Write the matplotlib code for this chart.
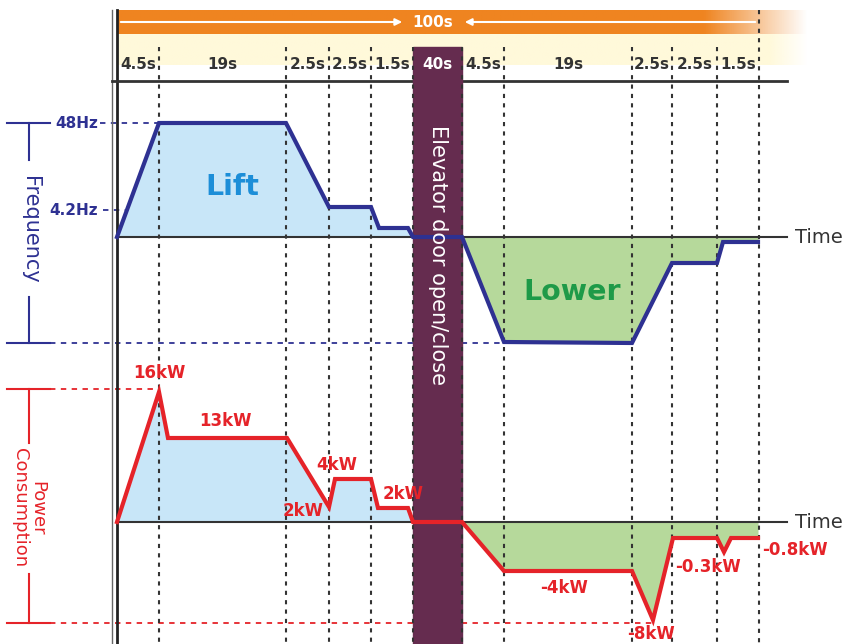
import numpy as np
import matplotlib.pyplot as plt
from matplotlib.patches import Rectangle

plt.rcParams['font.family'] = ['DejaVu Sans']

# phase durations across the top (schematic, not to scale)
seg_labels = ['4.5s', '19s', '2.5s', '2.5s', '1.5s', '40s', '4.5s', '19s', '2.5s', '2.5s', '1.5s']
seg_edges = [117, 159, 286, 329, 371, 413, 462, 504, 632, 672, 717, 759]
total_label = '100s'

# frequency profile (schematic height above the time axis)
freq_x = [117, 159, 286, 329, 371, 379, 408, 413, 462, 504, 632, 672, 717, 723, 758]
freq_lvl = [0, 114, 114, 30, 30, 9, 9, 0, 0, -105, -106, -26, -26, -5, -5]
freq_marks = ['48Hz', '4.2Hz']
freq_mark_lvl = [114, 27]

# power profile (schematic height above the time axis)
pow_x = [117, 159, 168, 287, 329, 335, 371, 378, 408, 413, 462, 504, 632, 653, 673, 717, 724, 731, 758]
pow_lvl = [0, 130, 84, 84, 15, 43, 43, 14, 14, 0, 0, -49, -49, -98, -16, -16, -30, -16, -16]
pow_labels = ['16kW', '13kW', '2kW', '4kW', '2kW', '-4kW', '-8kW', '-0.3kW', '-0.8kW']
pow_label_xy = [(159, 373), (225, 421), (303, 511), (337, 465), (403, 494),
                (564, 588), (651, 634), (708, 567), (795, 550)]

FREQ0, POW0 = 237, 522
NAVY = '#2E3192'
RED = '#E52329'
DARK = '#333333'
BLUE_FILL = '#C8E6F8'
GREEN_FILL = '#B6D99B'
DOOR = '#652C4F'

fig = plt.figure(figsize=(8.46, 6.44), dpi=100)
ax = fig.add_axes([0, 0, 1, 1])
ax.axis('off')

# header bands with fading right end
xs = np.linspace(117, 808, 400)
orange = np.zeros((1, len(xs), 4))
orange[..., :3] = np.array([239, 132, 32]) / 255
orange[..., 3] = np.clip((808 - xs) / (808 - 705), 0, 1)
ax.imshow(orange, extent=[117, 808, 34, 10], aspect='auto', zorder=0)
yellow = np.zeros((1, len(xs), 4))
yellow[..., :3] = np.array([255, 249, 218]) / 255
yellow[..., 3] = np.clip((808 - xs) / (808 - 770), 0, 1)
ax.imshow(yellow, extent=[117, 808, 65, 34], aspect='auto', zorder=0)

ax.annotate('', xy=(405, 22), xytext=(118, 22),
            arrowprops=dict(arrowstyle='-|>', color='white', lw=1.5, mutation_scale=10))
ax.annotate('', xy=(462, 22), xytext=(758, 22),
            arrowprops=dict(arrowstyle='-|>', color='white', lw=1.5, mutation_scale=10))
ax.text(433, 22, total_label, color='white', fontsize=11, fontweight='bold',
        ha='center', va='center', zorder=6)

# axes lines
ax.plot([112, 112], [10, 644], color='#666666', lw=1, zorder=2)
ax.plot([117, 117], [10, 644], color='#222222', lw=2, zorder=2)
ax.plot([112, 787], [81, 81], color=DARK, lw=2, zorder=2)
ax.plot([117, 787], [FREQ0, FREQ0], color=DARK, lw=1.5, zorder=2)
ax.plot([117, 787], [POW0, POW0], color=DARK, lw=1.5, zorder=2)
ax.text(795, FREQ0, 'Time', color=DARK, fontsize=14, ha='left', va='center')
ax.text(795, POW0, 'Time', color=DARK, fontsize=14, ha='left', va='center')

# door open/close block
ax.add_patch(Rectangle((seg_edges[5], 47), seg_edges[6] - seg_edges[5], 644 - 47,
                       color=DOOR, zorder=3))
ax.text((seg_edges[5] + seg_edges[6]) / 2, 255, 'Elevator door open/close', color='white',
        fontsize=15, rotation=-90, ha='center', va='center', zorder=6)

# phase separators and duration labels
for i, x in enumerate(seg_edges[1:]):
    top = 10 if i == len(seg_edges) - 2 else 47
    ax.plot([x, x], [top, 644], color=DARK, lw=1.5, ls=(0, (2, 2.5)), zorder=4)
for i, lab in enumerate(seg_labels):
    cx = (seg_edges[i] + seg_edges[i + 1]) / 2
    col = 'white' if lab == '40s' else DARK
    ax.text(cx, 64, lab, color=col, fontsize=11, fontweight='bold',
            ha='center', va='center', zorder=6)

# frequency curve
fx = np.array(freq_x, dtype=float)
fy = FREQ0 - np.array(freq_lvl, dtype=float)
ax.fill_between(fx, FREQ0, fy, where=fx <= seg_edges[5], color=BLUE_FILL, lw=0, zorder=1.5)
ax.fill_between(fx, FREQ0, fy, where=fx >= seg_edges[6], color=GREEN_FILL, lw=0, zorder=1.5)
ax.plot(fx, fy, color=NAVY, lw=3, solid_joinstyle='miter', zorder=5)

# frequency scale bracket
f_top, f_bot = FREQ0 - freq_mark_lvl[0], FREQ0 + 106
ax.plot([7, 50], [f_top, f_top], color=NAVY, lw=1.5)
ax.plot([7, 50], [f_bot, f_bot], color=NAVY, lw=1.5)
ax.plot([29, 29], [f_top, 160], color=NAVY, lw=1.5)
ax.plot([29, 29], [297, f_bot], color=NAVY, lw=1.5)
ax.text(30, 230, 'Frequency', color=NAVY, fontsize=15, rotation=-90, ha='center', va='center')
ax.plot([100, 159], [f_top, f_top], color=NAVY, lw=1.3, ls=(0, (3, 3)), zorder=1)
ax.plot([50, 504], [f_bot, f_bot], color=NAVY, lw=1.3, ls=(0, (3, 3)), zorder=1)
ax.plot([103, 125], [FREQ0 - freq_mark_lvl[1]] * 2, color=NAVY, lw=1.3, ls=(0, (3, 3)), zorder=1)
for lab, lv in zip(freq_marks, freq_mark_lvl):
    ax.text(98, FREQ0 - lv, lab, color=NAVY, fontsize=11, fontweight='bold', ha='right', va='center')

ax.text(232, 187, 'Lift', color='#1C8ED8', fontsize=20.5, fontweight='bold', ha='center', va='center')
ax.text(572, 292, 'Lower', color='#1E9A48', fontsize=20.5, fontweight='bold', ha='center', va='center')

# power curve
px = np.array(pow_x, dtype=float)
py = POW0 - np.array(pow_lvl, dtype=float)
ax.fill_between(px, POW0, py, where=px <= seg_edges[5], color=BLUE_FILL, lw=0, zorder=1.5)
ax.fill_between(px, POW0, py, where=px >= seg_edges[6], color=GREEN_FILL, lw=0, zorder=1.5)
ax.plot(px, py, color=RED, lw=3, solid_joinstyle='miter', zorder=5)

# power scale bracket
p_top, p_bot = 389, 623
ax.plot([7, 50], [p_top, p_top], color=RED, lw=1.5)
ax.plot([7, 50], [p_bot, p_bot], color=RED, lw=1.5)
ax.plot([29, 29], [p_top, 443], color=RED, lw=1.5)
ax.plot([29, 29], [574, p_bot], color=RED, lw=1.5)
ax.text(29, 508, 'Power\nConsumption', color=RED, fontsize=13, rotation=-90,
        ha='center', va='center', multialignment='center', linespacing=0.95)
ax.plot([50, 157], [p_top, p_top], color=RED, lw=1.3, ls=(0, (3, 3)), zorder=1)
ax.plot([50, 652], [p_bot, p_bot], color=RED, lw=1.3, ls=(0, (3, 3)), zorder=1)
for lab, (lx, ly) in zip(pow_labels, pow_label_xy):
    ax.text(lx, ly, lab, color=RED, fontsize=12, fontweight='bold', ha='center', va='center', zorder=6)

ax.set_xlim(0, 846)
ax.set_ylim(644, 0)
fig.savefig('out.png', dpi=100)
